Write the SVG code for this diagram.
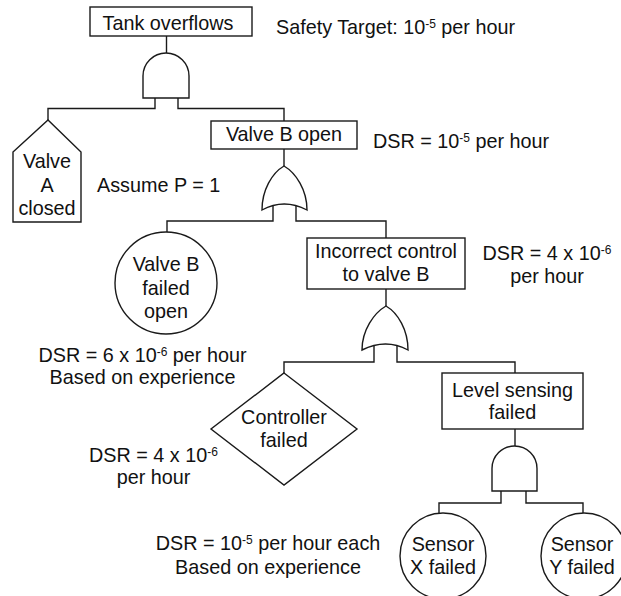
<svg xmlns="http://www.w3.org/2000/svg" width="621" height="596" viewBox="0 0 621 596">
<style>
.s{fill:#fff;stroke:#1a1a1a;stroke-width:1.4}
.c{fill:none;stroke:#1a1a1a;stroke-width:1.4}
text{font-family:"Liberation Sans",Arial,sans-serif;font-size:19.8px;fill:#111}
.m{text-anchor:middle}
.sup{font-size:12px}
</style>
<rect width="621" height="596" fill="#fff"/>
<g id="connectors">
<path class="c" d="M166.5,36V53"/>
<path class="c" d="M155,98V108.5H48V120"/>
<path class="c" d="M178,98V108.5H284V121"/>
<path class="c" d="M284,149V166"/>
<path class="c" d="M273,206V221H167V232"/>
<path class="c" d="M296,206V221H386V238"/>
<path class="c" d="M386,289V306"/>
<path class="c" d="M374,346V362H284V373"/>
<path class="c" d="M397,346V362H515V373"/>
<path class="c" d="M515,429V446"/>
<path class="c" d="M501,491V503H439V513"/>
<path class="c" d="M526,491V503H583V513"/>
</g>
<g id="tank-overflows">
<rect class="s" x="90" y="7" width="162" height="29"/>
<text class="m" x="168" y="29.5">Tank overflows</text>
</g>
<g id="safety-target">
<text x="276" y="34">Safety Target: 10<tspan class="sup" dy="-6">-5</tspan><tspan dy="6"> per hour</tspan></text>
</g>
<g id="and-gate-1">
<path class="s" d="M143,98V76A23,23 0 0 1 189,76V98Z"/>
</g>
<g id="valve-a-closed">
<polygon class="s" points="13,152 48,120 81,152 81,222 13,222"/>
<text class="m" x="47" y="168">Valve</text>
<text class="m" x="47" y="192">A</text>
<text class="m" x="47" y="215">closed</text>
</g>
<g id="assume">
<text x="97" y="192">Assume P = 1</text>
</g>
<g id="valve-b-open">
<rect class="s" x="211" y="121" width="146" height="28"/>
<text class="m" x="284" y="141">Valve B open</text>
</g>
<g id="dsr-valve-b">
<text x="373" y="148">DSR = 10<tspan class="sup" dy="-6">-5</tspan><tspan dy="6"> per hour</tspan></text>
</g>
<g id="or-gate-1">
<path class="s" d="M284,166C296,173 307,190 307,210Q284,198 262,210C262,190 272,173 284,166Z"/>
</g>
<g id="valve-b-failed-open">
<circle class="s" cx="166" cy="283" r="51"/>
<text class="m" x="166" y="271">Valve B</text>
<text class="m" x="166" y="295">failed</text>
<text class="m" x="166" y="318">open</text>
</g>
<g id="dsr-valve-b-failed">
<text class="m" x="142.5" y="361.5">DSR = 6 x 10<tspan class="sup" dy="-6">-6</tspan><tspan dy="6"> per hour</tspan></text>
<text class="m" x="142.5" y="384">Based on experience</text>
</g>
<g id="incorrect-control">
<rect class="s" x="307" y="238" width="158" height="51"/>
<text class="m" x="386" y="258">Incorrect control</text>
<text class="m" x="386" y="281">to valve B</text>
</g>
<g id="dsr-incorrect-control">
<text class="m" x="547" y="260">DSR = 4 x 10<tspan class="sup" dy="-6">-6</tspan></text>
<text class="m" x="547" y="283">per hour</text>
</g>
<g id="or-gate-2">
<path class="s" d="M386,306C398,313 408,330 408,350Q386,338 362,350C362,330 374,313 386,306Z"/>
</g>
<g id="controller-failed">
<polygon class="s" points="284,373 357,429 284,485 211,429"/>
<text class="m" x="284" y="424">Controller</text>
<text class="m" x="284" y="447">failed</text>
</g>
<g id="dsr-controller">
<text class="m" x="153.5" y="462">DSR = 4 x 10<tspan class="sup" dy="-6">-6</tspan></text>
<text class="m" x="153.5" y="484">per hour</text>
</g>
<g id="level-sensing-failed">
<rect class="s" x="442" y="373" width="141" height="56"/>
<text class="m" x="512.5" y="397">Level sensing</text>
<text class="m" x="512.5" y="419">failed</text>
</g>
<g id="and-gate-2">
<path class="s" d="M492,491V468.5A22.5,22.5 0 0 1 537,468.5V491Z"/>
</g>
<g id="sensor-x-failed">
<circle class="s" cx="443" cy="556" r="43"/>
<text class="m" x="443" y="551">Sensor</text>
<text class="m" x="443" y="574">X failed</text>
</g>
<g id="sensor-y-failed">
<circle class="s" cx="584" cy="556" r="43"/>
<text class="m" x="582" y="551">Sensor</text>
<text class="m" x="582" y="574">Y failed</text>
</g>
<g id="dsr-sensors">
<text class="m" x="268" y="550">DSR = 10<tspan class="sup" dy="-6">-5</tspan><tspan dy="6"> per hour each</tspan></text>
<text class="m" x="268" y="574">Based on experience</text>
</g>
</svg>
